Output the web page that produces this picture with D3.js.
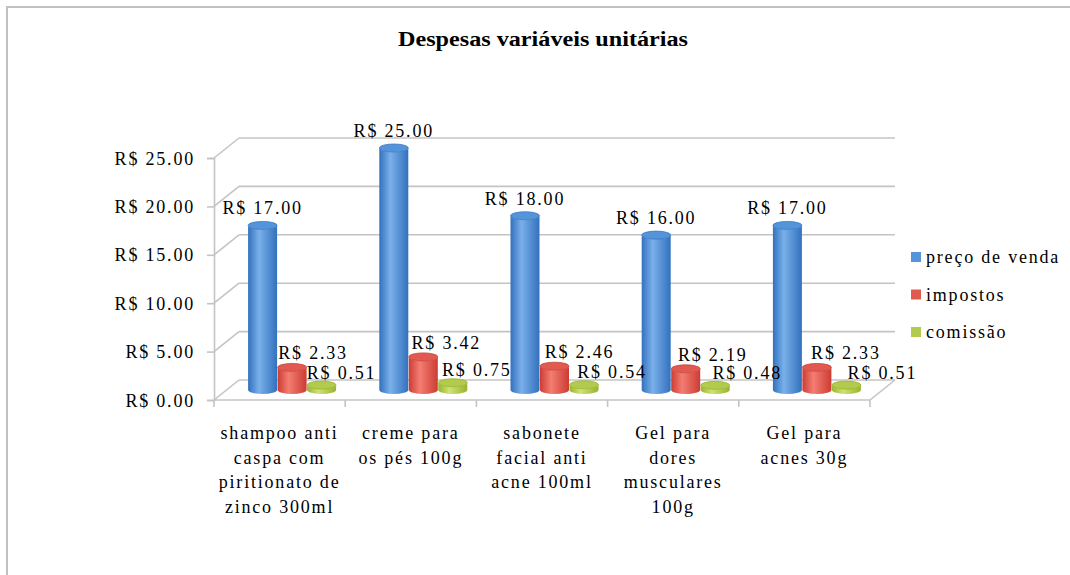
<!DOCTYPE html>
<html>
<head>
<meta charset="utf-8">
<script src="https://cdn.jsdelivr.net/npm/d3@7"></script>
<style>
  html, body { margin: 0; padding: 0; background: #fff; }
  svg text { font-family: "Liberation Serif", "Times New Roman", serif; fill: #000; }
  .lbl { font-size: 18px; letter-spacing: 1.8px; }
</style>
</head>
<body>
<svg id="chart" width="1070" height="575"></svg>
<script>
const title = "Despesas variáveis unitárias";
const categories = [
  ["shampoo anti", "caspa com", "piritionato de", "zinco 300ml"],
  ["creme para", "os pés 100g"],
  ["sabonete", "facial anti", "acne 100ml"],
  ["Gel para", "dores", "musculares", "100g"],
  ["Gel para", "acnes 30g"]
];
const seriesNames = ["preço de venda", "impostos", "comissão"];
const precoDeVenda = [17.00, 25.00, 18.00, 16.00, 17.00];
const impostos = [2.33, 3.42, 2.46, 2.19, 2.33];
const comissao = [0.51, 0.75, 0.54, 0.48, 0.51];
const yTicks = [0, 5, 10, 15, 20, 25];

const seriesValues = [precoDeVenda, impostos, comissao];
const colors = [
  { edge: "#3271bd", light: "#7ab0ea", top: "#5394da", stroke: "#3a78c0" },
  { edge: "#cc3c33", light: "#f47d72", top: "#e2594f", stroke: "#c8443c" },
  { edge: "#98b42c", light: "#d0e274", top: "#b3cb4c", stroke: "#98b234" }
];

const svg = d3.select("#chart");
const fmt = v => "R$ " + d3.format(".2f")(v);

// outer chart border
svg.append("path").attr("d", "M7,575 L7,7 L1070,7")
  .attr("fill", "none").attr("stroke", "#c0c0c0").attr("stroke-width", 2);

// title
svg.append("text").attr("x", 543).attr("y", 46).attr("text-anchor", "middle")
  .style("font-size", "20px").style("font-weight", "bold")
  .attr("textLength", 290).attr("lengthAdjust", "spacingAndGlyphs")
  .text(title);

// geometry
const depthX = 25, depthY = -20;
const catIdx = categories.map((c, i) => i);
const x = d3.scaleBand().domain(catIdx).range([214, 870]).paddingInner(0).paddingOuter(0);
const yFront = d3.scaleLinear().domain([0, 25]).range([400, 158]);
const groupW = 88.5;
const xs = d3.scaleBand().domain([0, 1, 2]).range([-groupW / 2, groupW / 2]);

const grid = svg.append("g");
// back wall gridlines and left-wall diagonals
yTicks.forEach(t => {
  const yf = yFront(t), yb = yf + depthY;
  grid.append("line").attr("x1", x.range()[0] + depthX).attr("x2", x.range()[1] + depthX)
    .attr("y1", yb).attr("y2", yb);
  grid.append("line").attr("x1", x.range()[0]).attr("x2", x.range()[0] + depthX)
    .attr("y1", yf).attr("y2", yb);
});
// floor front edge and right diagonal
grid.append("line").attr("x1", x.range()[0]).attr("x2", x.range()[1])
  .attr("y1", yFront(0)).attr("y2", yFront(0));
grid.append("line").attr("x1", x.range()[1]).attr("x2", x.range()[1] + depthX)
  .attr("y1", yFront(0)).attr("y2", yFront(0) + depthY);
// category ticks
const bounds = catIdx.map(i => x(i)).concat([x.range()[1]]);
bounds.forEach(bx => {
  grid.append("line").attr("x1", bx).attr("x2", bx).attr("y1", yFront(0)).attr("y2", yFront(0) + 7);
});
grid.selectAll("line").attr("stroke", "#c4c4c4").attr("stroke-width", 1.6);

// value axis (front)
const yAxis = d3.axisLeft(yFront).tickValues(yTicks).tickFormat(fmt).tickSize(7).tickPadding(12);
const ax = svg.append("g").attr("transform", `translate(${x.range()[0]},0)`).call(yAxis);
ax.select(".domain").attr("stroke", "#c4c4c4").attr("stroke-width", 1.6);
ax.selectAll(".tick line").attr("stroke", "#c4c4c4").attr("stroke-width", 1.6);
ax.selectAll(".tick text").attr("class", "lbl").attr("fill", "#000")
  .style("font-family", "'Liberation Serif', serif").attr("dy", "0.34em");

// gradients
const defs = svg.append("defs");
colors.forEach((c, i) => {
  const g = defs.append("linearGradient").attr("id", "grad" + i)
    .attr("x1", "0%").attr("x2", "100%").attr("y1", "0%").attr("y2", "0%");
  g.append("stop").attr("offset", "0%").attr("stop-color", c.edge);
  g.append("stop").attr("offset", "38%").attr("stop-color", c.light);
  g.append("stop").attr("offset", "100%").attr("stop-color", c.edge);
});

// cylinders
const midDX = depthX / 2, midDY = depthY / 2;
const barW = xs.bandwidth() - 0.5, rx = barW / 2, ry = 4;
const barCx = (ci, si) => x(ci) + x.bandwidth() / 2 + xs(si) + xs.bandwidth() / 2 + midDX;
const bars = svg.append("g");
catIdx.forEach(ci => {
  seriesValues.forEach((vals, si) => {
    const v = vals[ci];
    const cx = barCx(ci, si);
    const yb = yFront(0) + midDY;
    const yt = yFront(v) + midDY;
    const l = cx - rx, r = cx + rx;
    bars.append("path")
      .attr("d", `M${l},${yt} L${l},${yb} A${rx},${ry} 0 0 0 ${r},${yb} L${r},${yt} A${rx},${ry} 0 0 1 ${l},${yt} Z`)
      .attr("fill", `url(#grad${si})`);
    bars.append("ellipse").attr("cx", cx).attr("cy", yt).attr("rx", rx).attr("ry", ry)
      .attr("fill", colors[si].top).attr("stroke", colors[si].stroke).attr("stroke-width", 0.8);
  });
});

// data labels (offset grows slightly to the right, as in the perspective view)
const labelDX = [0, 21, 20], labelDrift = [0, 2, 4], labelDY = [-11, -8, -6.5];
const labels = svg.append("g");
catIdx.forEach(ci => {
  seriesValues.forEach((vals, si) => {
    const v = vals[ci];
    const cx = barCx(ci, si);
    const yt = yFront(v) + midDY;
    labels.append("text").attr("class", "lbl").attr("text-anchor", "middle")
      .attr("x", cx + labelDX[si] + labelDrift[si] * ci).attr("y", yt + labelDY[si]).text(fmt(v));
  });
});

// category labels
const catG = svg.append("g");
categories.forEach((lines, ci) => {
  const t = catG.append("text").attr("class", "lbl").attr("text-anchor", "middle");
  lines.forEach((ln, li) => {
    t.append("tspan").attr("x", x(ci) + x.bandwidth() / 2).attr("y", 439 + li * 24.5).text(ln);
  });
});

// legend
const leg = svg.append("g").attr("transform", "translate(911,257)");
seriesNames.forEach((name, i) => {
  const g = leg.append("g").attr("transform", `translate(0,${i * 37.5})`);
  g.append("rect").attr("x", 0).attr("y", -5).attr("width", 10).attr("height", 10)
    .attr("fill", colors[i].top);
  g.append("text").attr("class", "lbl").attr("x", 15).attr("y", 6).text(name);
});
</script>
</body>
</html>
